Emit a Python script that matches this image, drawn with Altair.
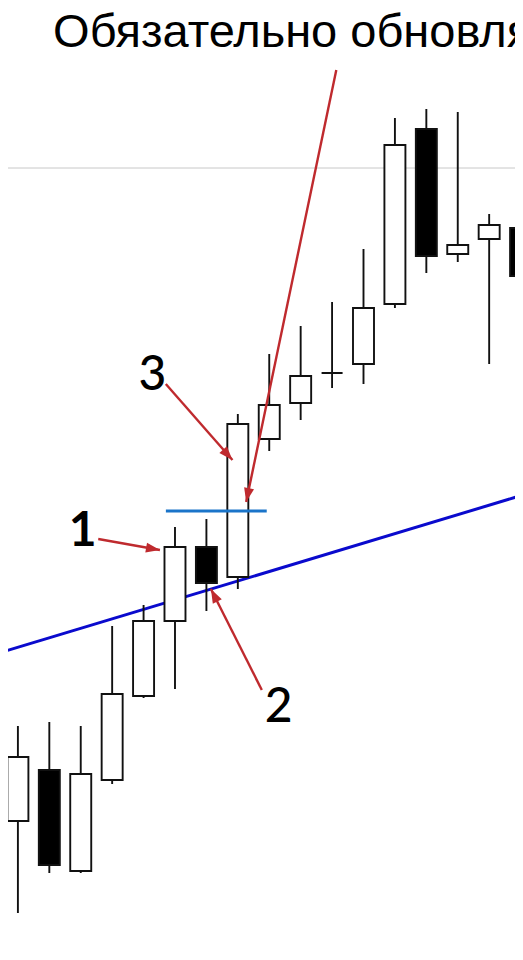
import math
import altair as alt
import pandas as pd

# ---- candle data (index, open, high, low, close) ----
idx = list(range(17))
opens = [139, 190, 89, 180, 264, 339, 413, 383, 521, 557, 587, 596, 656, 831, 706, 721, 732]
highs = [234, 238, 234, 334, 355, 433, 441, 546, 606, 634, 658, 711, 842, 851, 848, 746, 742]
lows = [47, 87, 87, 176, 262, 271, 349, 371, 509, 540, 572, 576, 652, 687, 698, 596, 670]
closes = [203, 95, 186, 266, 339, 413, 377, 536, 555, 584, 587, 652, 815, 704, 715, 735, 684]

# ---- lines ----
grid_price = [792]
trend_x = [-0.5, 16.5]
trend_price = [308, 469]
level_x = [4.71, 7.92]
level_price = [449, 449]

# ---- texts ----
title_text = ["Обязательно обновляется максимум"]
title_x = [1.12]
title_price = [913]
num_labels = ["1", "3", "2"]
num_x = [2.06, 4.28, 8.30]
num_price = [414, 570, 238]
num_weight = ["bold", "normal", "normal"]

# ---- arrows (tail -> tip) ----
arr_x1 = [2.557, 7.764, 4.708, 10.134]
arr_p1 = [421, 270, 576, 890]
arr_x2 = [4.521, 6.143, 6.829, 7.265]
arr_p2 = [410, 371, 500, 458]

W, H = 507, 944
XDOM = [-0.156, 15.663]
YDOM = [8, 952]
px_per_x = W / (XDOM[1] - XDOM[0])
px_per_y = H / (YDOM[1] - YDOM[0])

xs = alt.Scale(domain=XDOM, nice=False, zero=False)
ys = alt.Scale(domain=YDOM, nice=False, zero=False)
noax = None

cdf = pd.DataFrame({"i": idx, "open": opens, "high": highs, "low": lows, "close": closes})
cdf["dir"] = ["up" if c >= o else "down" for o, c in zip(opens, closes)]

X = alt.X("i:Q", scale=xs, axis=noax)

wicks = alt.Chart(cdf).mark_rule(color="#111111", strokeWidth=1.9, clip=True).encode(
    x=X, y=alt.Y("low:Q", scale=ys, axis=noax), y2="high:Q"
)
bodies = alt.Chart(cdf).mark_bar(size=21, stroke="#111111", strokeWidth=1.9, clip=True, orient="vertical").encode(
    x=X,
    y=alt.Y("open:Q", scale=ys, axis=noax),
    y2="close:Q",
    fill=alt.Fill("dir:N", scale=alt.Scale(domain=["up", "down"], range=["#ffffff", "#000000"]), legend=None),
)

gdf = pd.DataFrame({"p": grid_price})
grid = alt.Chart(gdf).mark_rule(color="#c8c8c8", strokeWidth=1).encode(
    y=alt.Y("p:Q", scale=ys, axis=noax)
)

tdf = pd.DataFrame({"x": trend_x, "p": trend_price})
trend = alt.Chart(tdf).mark_line(color="#0a0acd", strokeWidth=3, clip=True).encode(
    x=alt.X("x:Q", scale=xs, axis=noax), y=alt.Y("p:Q", scale=ys, axis=noax)
)

ldf = pd.DataFrame({"x": level_x, "p": level_price})
level = alt.Chart(ldf).mark_line(color="#1a74c9", strokeWidth=3.2).encode(
    x=alt.X("x:Q", scale=xs, axis=noax), y=alt.Y("p:Q", scale=ys, axis=noax)
)

adf = pd.DataFrame({"x1": arr_x1, "p1": arr_p1, "x2": arr_x2, "p2": arr_p2})
angles = []
for a, b, c, d in zip(arr_x1, arr_p1, arr_x2, arr_p2):
    dx = (c - a) * px_per_x
    dy = -(d - b) * px_per_y  # screen coordinates (down positive)
    ang = math.degrees(math.atan2(dx, -dy)) % 360
    angles.append(ang)
adf["ang"] = angles
RED = "#bf2a2e"
shafts = alt.Chart(adf).mark_rule(color=RED, strokeWidth=2.4).encode(
    x=alt.X("x1:Q", scale=xs, axis=noax), y=alt.Y("p1:Q", scale=ys, axis=noax), x2="x2:Q", y2="p2:Q"
)
heads = alt.Chart(adf).mark_point(
    shape="M0,0L-0.36,1L0.36,1Z", size=784, filled=True, color=RED, opacity=1
).encode(
    x=alt.X("x2:Q", scale=xs, axis=noax), y=alt.Y("p2:Q", scale=ys, axis=noax), angle=alt.Angle("ang:Q", scale=None)
)

ttl = alt.Chart(pd.DataFrame({"t": title_text, "x": title_x, "p": title_price})).mark_text(
    align="left", baseline="alphabetic", fontSize=47, color="#000000",
    font="Liberation Sans, Arial"
).encode(x=alt.X("x:Q", scale=xs, axis=noax), y=alt.Y("p:Q", scale=ys, axis=noax), text="t:N")

ndf = pd.DataFrame({"t": num_labels, "x": num_x, "p": num_price, "w": num_weight})
nums_b = alt.Chart(ndf[ndf.w == "bold"]).mark_text(
    align="center", baseline="alphabetic", fontSize=48, font="Lato", fontWeight="bold", color="#000000"
).encode(x=alt.X("x:Q", scale=xs, axis=noax), y=alt.Y("p:Q", scale=ys, axis=noax), text="t:N")
nums_n = alt.Chart(ndf[ndf.w == "normal"]).mark_text(
    align="center", baseline="alphabetic", fontSize=48, font="Lato", fontWeight=500, color="#000000"
).encode(x=alt.X("x:Q", scale=xs, axis=noax), y=alt.Y("p:Q", scale=ys, axis=noax), text="t:N")

chart = alt.layer(grid, trend, wicks, bodies, level, shafts, heads, ttl, nums_b, nums_n).properties(
    width=W, height=H, padding=0, autosize=alt.AutoSizeParams(type="none"), background="#ffffff"
).configure_view(stroke=None)

chart.save("out.html", embed_options={"renderer": "svg", "actions": False})
